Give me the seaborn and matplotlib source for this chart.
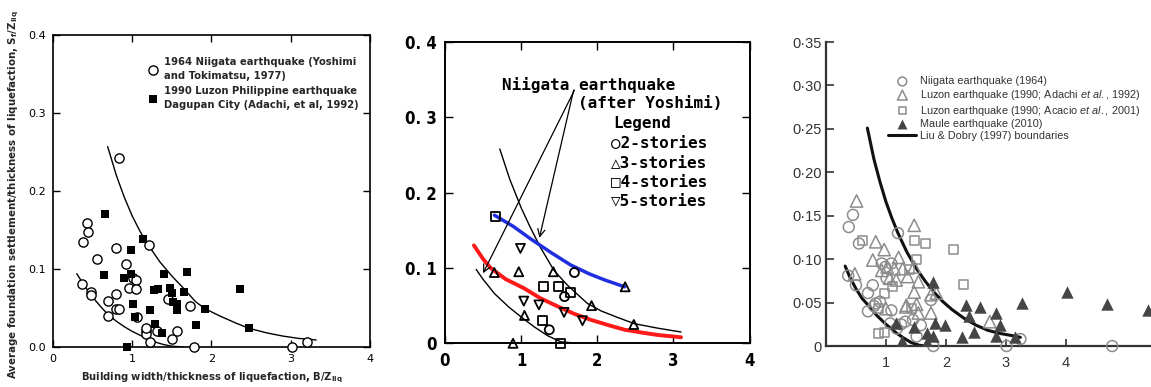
import numpy as np
import pandas as pd
import matplotlib
matplotlib.use("Agg")
import matplotlib.pyplot as plt
import seaborn as sns
from matplotlib import font_manager

# ---------------- Panel A (Liu & Dobry style figure) ----------------
a_niigata_x = [0.38, 0.435, 0.448, 0.56, 0.80, 0.83, 1.21, 0.92, 0.37, 0.48, 0.48, 0.70, 0.79,
               0.70, 0.80, 0.83, 0.96, 1.01, 1.05, 1.05, 1.06, 1.18, 1.18, 1.18, 1.23, 1.31,
               1.45, 1.56, 1.50, 1.73, 1.78, 3.01, 3.21]
a_niigata_y = [0.134, 0.159, 0.147, 0.113, 0.127, 0.242, 0.131, 0.106, 0.081, 0.071, 0.067, 0.059,
               0.068, 0.040, 0.049, 0.049, 0.075, 0.089, 0.086, 0.074, 0.039, 0.021, 0.017, 0.024,
               0.007, 0.021, 0.061, 0.021, 0.010, 0.053, 0.000, 0.000, 0.007]
a_luzon_x = [0.655, 0.65, 0.89, 0.98, 0.99, 1.01, 1.04, 0.94, 1.14, 1.23, 1.27, 1.32, 1.29, 1.37,
             1.40, 1.48, 1.50, 1.51, 1.56, 1.56, 1.69, 1.65, 1.80, 1.92, 2.36, 2.47]
a_luzon_y = [0.170, 0.092, 0.089, 0.124, 0.094, 0.055, 0.039, 0.000, 0.139, 0.048, 0.073, 0.074,
             0.029, 0.018, 0.093, 0.076, 0.069, 0.058, 0.055, 0.047, 0.096, 0.071, 0.028, 0.049,
             0.074, 0.024]
a_upper_x = [0.69, 0.8, 0.9, 1.0, 1.1, 1.2, 1.35, 1.5, 1.65, 1.8, 1.92, 2.1, 2.3, 2.47, 2.7, 2.9, 3.1, 3.32]
a_upper_y = [0.257, 0.220, 0.192, 0.168, 0.148, 0.131, 0.109, 0.091, 0.075, 0.058, 0.049, 0.040,
             0.031, 0.024, 0.018, 0.014, 0.011, 0.009]
a_lower_x = [0.30, 0.4, 0.5, 0.6, 0.7, 0.8, 0.9, 1.0, 1.1, 1.2, 1.3, 1.4, 1.5, 1.65]
a_lower_y = [0.094, 0.078, 0.064, 0.052, 0.041, 0.033, 0.026, 0.020, 0.015, 0.010, 0.006, 0.003, 0.001, 0.0]
a_ticks_x = [0, 1, 2, 3, 4]
a_ticks_y = [0.0, 0.1, 0.2, 0.3, 0.4]
a_ticklabels_y = ["0.0", "0.1", "0.2", "0.3", "0.4"]

# ---------------- Panel B (Japanese scan) ----------------
b_st2_x = [1.70, 1.57, 1.37]
b_st2_y = [0.094, 0.062, 0.018]
b_st3_x = [0.648, 0.969, 1.423, 1.925, 2.48, 2.366, 1.044, 0.894]
b_st3_y = [0.094, 0.095, 0.095, 0.050, 0.025, 0.075, 0.037, 0.0]
b_st4_x = [0.661, 1.30, 1.489, 1.652, 1.278, 1.52]
b_st4_y = [0.169, 0.075, 0.076, 0.068, 0.030, 0.0]
b_st5_x = [0.991, 1.035, 1.233, 1.564, 1.806]
b_st5_y = [0.126, 0.056, 0.051, 0.041, 0.030]
b_blue_x = [0.65, 0.9, 1.12, 1.4, 1.65, 1.9, 2.1, 2.36]
b_blue_y = [0.170, 0.155, 0.139, 0.120, 0.104, 0.092, 0.084, 0.075]
b_red_x = [0.38, 0.5, 0.6, 0.8, 1.04, 1.25, 1.48, 1.7, 1.92, 2.15, 2.36, 2.6, 2.8, 3.1]
b_red_y = [0.130, 0.112, 0.100, 0.085, 0.073, 0.060, 0.049, 0.039, 0.031, 0.024, 0.018, 0.014, 0.011, 0.008]
b_upper_x = [0.72, 0.85, 1.0, 1.12, 1.25, 1.43, 1.6, 1.75, 1.87, 2.05, 2.25, 2.49, 2.8, 3.1]
b_upper_y = [0.258, 0.218, 0.180, 0.154, 0.128, 0.097, 0.078, 0.064, 0.053, 0.043, 0.035, 0.026, 0.020, 0.015]
b_lower_x = [0.41, 0.5, 0.65, 0.84, 1.0, 1.17, 1.35, 1.52, 1.75]
b_lower_y = [0.098, 0.085, 0.066, 0.048, 0.035, 0.022, 0.010, 0.002, 0.0]
b_ticks_y = [0.0, 0.1, 0.2, 0.3, 0.4]
b_ticklabels_y = ["0", "0. 1", "0. 2", "0. 3", "0. 4"]
b_ticks_x = [0, 1, 2, 3, 4]

# ---------------- Panel C (Bray & Macedo style) ----------------
c_niigata_x = [0.38, 0.45, 0.55, 1.20, 0.37, 0.50, 0.78, 0.70, 0.83, 0.70, 0.90, 0.93, 1.01, 1.09,
               1.09, 1.07, 1.18, 1.32, 1.51, 1.58, 1.75, 1.79, 3.01, 3.24, 4.77, 0.99, 1.25, 1.45, 0.80]
c_niigata_y = [0.137, 0.151, 0.118, 0.130, 0.081, 0.070, 0.070, 0.061, 0.049, 0.040, 0.051, 0.095,
               0.078, 0.095, 0.041, 0.026, 0.020, 0.028, 0.011, 0.024, 0.053, 0.000, 0.000, 0.008,
               0.000, 0.091, 0.025, 0.030, 0.046]
c_adachi_x = [0.51, 1.47, 0.83, 0.97, 0.78, 1.21, 0.48, 0.93, 1.02, 1.28, 1.36, 1.47, 1.54, 1.47,
              1.34, 1.51, 1.54, 1.75, 1.84, 1.00, 1.17, 2.73, 1.06, 1.14, 1.33, 1.75]
c_adachi_y = [0.167, 0.139, 0.120, 0.111, 0.099, 0.102, 0.083, 0.087, 0.091, 0.089, 0.080, 0.091,
              0.074, 0.062, 0.047, 0.048, 0.038, 0.038, 0.061, 0.043, 0.076, 0.028, 0.078, 0.089,
              0.045, 0.059]
c_acacio_x = [0.61, 1.47, 1.66, 2.12, 1.51, 2.30, 0.98, 0.87, 0.87, 0.98, 1.43, 1.11, 1.39]
c_acacio_y = [0.121, 0.121, 0.118, 0.111, 0.100, 0.071, 0.061, 0.043, 0.014, 0.015, 0.043, 0.068, 0.088]
c_maule_x = [1.79, 1.17, 1.26, 1.47, 1.68, 1.79, 1.82, 1.98, 1.68, 2.26, 2.34, 2.38, 2.47, 2.56,
             2.83, 2.90, 2.83, 3.15, 3.26, 4.02, 4.69, 5.37]
c_maule_y = [0.074, 0.027, 0.006, 0.022, 0.015, 0.011, 0.026, 0.024, 0.005, 0.010, 0.047, 0.034,
             0.016, 0.045, 0.038, 0.024, 0.011, 0.010, 0.049, 0.062, 0.048, 0.041]
c_upper_x = [0.69, 0.8, 0.9, 1.0, 1.1, 1.2, 1.35, 1.5, 1.65, 1.8, 1.95, 2.1, 2.3, 2.5, 2.7, 2.9, 3.1, 3.24]
c_upper_y = [0.251, 0.215, 0.189, 0.166, 0.147, 0.130, 0.108, 0.090, 0.075, 0.062, 0.051, 0.042,
             0.032, 0.024, 0.018, 0.0145, 0.012, 0.010]
c_lower_x = [0.32, 0.4, 0.5, 0.6, 0.73, 0.85, 1.0, 1.18, 1.3, 1.42, 1.55, 1.65]
c_lower_y = [0.092, 0.079, 0.066, 0.055, 0.045, 0.035, 0.025, 0.0146, 0.009, 0.004, 0.001, 0.0]
c_ticks_x = [1, 2, 3, 4]
c_ticks_y = [0, 0.05, 0.10, 0.15, 0.20, 0.25, 0.30, 0.35]
c_ticklabels_y = ["0", "0\u00b705", "0\u00b710", "0\u00b715", "0\u00b720", "0\u00b725", "0\u00b730", "0\u00b735"]

sns.set_theme(style="white")
available = {f.name for f in font_manager.fontManager.ttflist}


def pick(*cands):
    for c in cands:
        if c in available:
            return c
    return "DejaVu Sans"


F_A = "DejaVu Sans"
F_C = pick("Liberation Sans", "Arimo", "DejaVu Sans")
F_B = pick("Liberation Sans Narrow", "DejaVu Sans")
plt.rcParams["font.family"] = [F_C, "DejaVu Sans"]
plt.rcParams["mathtext.fontset"] = "custom"
plt.rcParams["mathtext.rm"] = F_C
plt.rcParams["mathtext.it"] = F_C + ":italic"
plt.rcParams["mathtext.bf"] = "DejaVu Sans:bold"

fig = plt.figure(figsize=(11.51, 3.87), dpi=100)
fig.patch.set_facecolor("white")

# ================= Panel A =================
ax1 = fig.add_axes([0.046, 0.1034, 0.2755, 0.806])
ax1.set_facecolor("white")
sns.lineplot(x=a_upper_x, y=a_upper_y, ax=ax1, color="black", lw=1.0, sort=False, estimator=None)
sns.lineplot(x=a_lower_x, y=a_lower_y, ax=ax1, color="black", lw=1.0, sort=False, estimator=None)
h1 = ax1.scatter(a_niigata_x, a_niigata_y, s=44, facecolors="white", edgecolors="black",
                 linewidths=1.0, marker="o", clip_on=False, zorder=3)
h2 = ax1.scatter(a_luzon_x, a_luzon_y, s=30, c="black", marker="s", linewidths=0,
                 clip_on=False, zorder=3)
ax1.set_xlim(0, 4)
ax1.set_ylim(0, 0.4)
ax1.set_xticks(a_ticks_x)
ax1.set_yticks(a_ticks_y)
ax1.set_yticklabels(a_ticklabels_y)
for lab in ax1.get_xticklabels() + ax1.get_yticklabels():
    lab.set_fontfamily(F_A)
    lab.set_fontsize(8)
ax1.tick_params(direction="in", top=True, right=True, bottom=True, left=True,
                length=5, width=1, colors="black", pad=5)
for sp in ax1.spines.values():
    sp.set_color("black")
    sp.set_linewidth(1.2)
ax1.set_xlabel(r"Building width/thickness of liquefaction, $\mathbf{B/Z_{liq}}$",
               fontfamily=F_A, fontweight="bold", fontsize=7.2)
ax1.set_ylabel(r"Average foundation settlement/thickness of liquefaction, $\mathbf{S_f/Z_{liq}}$",
               fontfamily=F_A, fontweight="bold", fontsize=7.4)
ax1.xaxis.set_label_coords(0.5, -0.100)
ax1.xaxis.label.set_va("center")
ax1.yaxis.set_label_coords(-0.123, 0.487)
ax1.yaxis.label.set_va("center")
leg1 = ax1.legend(handles=[h1, h2],
                  labels=["1964 Niigata earthquake (Yoshimi\nand Tokimatsu, 1977)",
                          "1990 Luzon Philippine earthquake\nDagupan City (Adachi, et al, 1992)"],
                  loc="upper left", bbox_to_anchor=(0.285, 0.946), frameon=False,
                  prop={"family": F_A, "weight": "bold", "size": 7.2},
                  handletextpad=0.55, labelspacing=0.45, borderpad=0, scatterpoints=1,
                  handlelength=1.0)
for t in leg1.get_texts():
    t.set_linespacing(1.55)

# ================= Panel B =================
ax2 = fig.add_axes([0.3866, 0.1129, 0.2646, 0.7786])
ax2.set_facecolor("white")
sns.lineplot(x=b_upper_x, y=b_upper_y, ax=ax2, color="black", lw=1.0, sort=False, estimator=None)
sns.lineplot(x=b_lower_x, y=b_lower_y, ax=ax2, color="black", lw=1.0, sort=False, estimator=None)
mk = dict(facecolors="none", edgecolors="black", linewidths=1.3, clip_on=False, zorder=3)
ax2.scatter(b_st2_x, b_st2_y, s=42, marker="o", **mk)
ax2.scatter(b_st3_x, b_st3_y, s=42, marker="^", **mk)
ax2.scatter(b_st4_x, b_st4_y, s=42, marker="s", **mk)
ax2.scatter(b_st5_x, b_st5_y, s=42, marker="v", **mk)
sns.lineplot(x=b_red_x, y=b_red_y, ax=ax2, color="#ff1a1a", lw=2.8, sort=False, estimator=None)
sns.lineplot(x=b_blue_x, y=b_blue_y, ax=ax2, color="#1f2fe0", lw=2.5, sort=False, estimator=None)
ax2.set_xlim(0, 4)
ax2.set_ylim(0, 0.4)
ax2.set_xticks(b_ticks_x)
ax2.set_yticks(b_ticks_y)
ax2.set_yticklabels(b_ticklabels_y)
for lab in ax2.get_xticklabels() + ax2.get_yticklabels():
    lab.set_fontfamily(F_B)
    lab.set_fontweight("bold")
    lab.set_fontstretch("condensed")
    lab.set_fontsize(12)
ax2.tick_params(direction="in", top=True, right=True, bottom=True, left=True,
                length=6, width=1, colors="black", pad=6)
for sp in ax2.spines.values():
    sp.set_color("black")
    sp.set_linewidth(1.4)
mono = ["DejaVu Sans Mono", "DejaVu Sans"]
ax2.text(0.186, 0.856, "Niigata earthquake", transform=ax2.transAxes, family=mono,
         fontsize=11.5, fontweight="bold", va="center", ha="left", color="black")
ax2.text(0.438, 0.797, "(after Yoshimi)", transform=ax2.transAxes, family=mono,
         fontsize=11.5, fontweight="bold", va="center", ha="left", color="black")
ax2.text(0.553, 0.730, "Legend", transform=ax2.transAxes, family=mono,
         fontsize=11.5, fontweight="bold", va="center", ha="left", color="black")
for i, s in enumerate(["\u25cb2-stories", "\u25b33-stories", "\u25a14-stories", "\u25bd5-stories"]):
    ax2.text(0.545, 0.664 - i * 0.0635, s, transform=ax2.transAxes, family=mono,
             fontsize=11.5, fontweight="bold", va="center", ha="left", color="black")
arrow_kw = dict(arrowstyle="->", color="black", lw=0.9, mutation_scale=13, shrinkA=0, shrinkB=0)
ax2.annotate("", xy=(0.50, 0.093), xytext=(1.70, 0.336), arrowprops=arrow_kw)
ax2.annotate("", xy=(1.24, 0.140), xytext=(1.69, 0.336), arrowprops=arrow_kw)

# ================= Panel C =================
ax3 = fig.add_axes([0.7176, 0.1059, 0.2824, 0.7855])
ax3.set_facecolor("white")
gray = "#8c8c8c"
l3, = ax3.plot(c_upper_x, c_upper_y, color="#111111", lw=2.2)
sns.lineplot(x=c_lower_x, y=c_lower_y, ax=ax3, color="#111111", lw=2.2, sort=False, estimator=None)
g1 = ax3.scatter(c_niigata_x, c_niigata_y, s=62, marker="o", facecolors="none", edgecolors=gray,
                 linewidths=1.1, clip_on=False, zorder=3)
g2 = ax3.scatter(c_adachi_x, c_adachi_y, s=78, marker="^", facecolors="none", edgecolors=gray,
                 linewidths=1.1, clip_on=False, zorder=3)
g3 = ax3.scatter(c_acacio_x, c_acacio_y, s=42, marker="s", facecolors="none", edgecolors=gray,
                 linewidths=1.1, clip_on=False, zorder=3)
g4 = ax3.scatter(c_maule_x, c_maule_y, s=80, marker="^", c="#454545", linewidths=0,
                 clip_on=True, zorder=4)
ax3.set_xlim(0, 5.417)
ax3.set_ylim(0, 0.35)
ax3.set_xticks(c_ticks_x)
ax3.set_yticks(c_ticks_y)
ax3.set_yticklabels(c_ticklabels_y)
for lab in ax3.get_xticklabels() + ax3.get_yticklabels():
    lab.set_fontfamily(F_C)
    lab.set_fontsize(10.5)
    lab.set_color("#333333")
ax3.tick_params(axis="y", direction="in", left=True, length=6, width=1.2, colors="#333333",
                labelcolor="#333333", pad=3)
ax3.tick_params(axis="x", direction="in", bottom=True, length=5, width=1.2, colors="#333333",
                labelcolor="#333333", pad=7)
for side in ["top", "right"]:
    ax3.spines[side].set_visible(False)
for side in ["left", "bottom"]:
    ax3.spines[side].set_color("#333333")
    ax3.spines[side].set_linewidth(1.6)
ax3.legend(handles=[g1, g2, g3, g4, l3],
           labels=["Niigata earthquake (1964)",
                   r"Luzon earthquake (1990; Adachi $\mathit{et\ al.}$, 1992)",
                   r"Luzon earthquake (1990; Acacio $\mathit{et\ al.}$, 2001)",
                   "Maule earthquake (2010)",
                   "Liu & Dobry (1997) boundaries"],
           loc="upper left", bbox_to_anchor=(0.175, 0.905), frameon=False,
           prop={"family": F_C, "size": 7.8}, labelcolor="#333333",
           handlelength=2.6, handletextpad=0.35, labelspacing=0.15, borderpad=0,
           scatterpoints=1, markerscale=0.8)

fig.savefig("out.png", dpi=100, facecolor="white")
